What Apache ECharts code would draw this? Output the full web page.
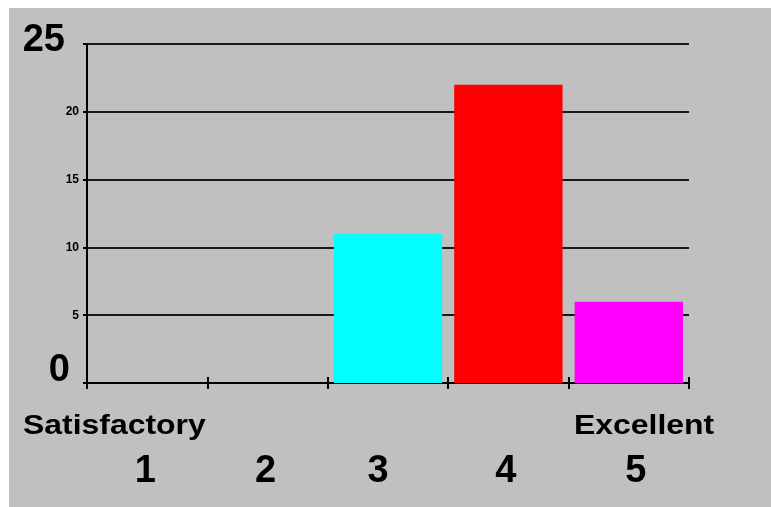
<!DOCTYPE html>
<html>
<head>
<meta charset="utf-8">
<script src="https://cdn.jsdelivr.net/npm/echarts@6/dist/echarts.min.js"></script>
<style>
  html, body { margin: 0; padding: 0; background: #ffffff; }
  #chart { position: absolute; left: 9px; top: 8px; width: 762px; height: 499px; background: #c0c0c0; }
</style>
</head>
<body>
<div id="chart"></div>
<script>
// rating scale 1..5
const categories = ['1', '2', '3', '4', '5'];
// number of answers per rating
const counts = [0, 0, 11, 22, 6];
const barColors = ['#00ffff', '#00ffff', '#00ffff', '#ff0000', '#ff00ff'];
const scaleEnds = ['Satisfactory', 'Excellent'];

const chart = echarts.init(document.getElementById('chart'));
const font = 'Liberation Sans, Arial, sans-serif';
const numStyle = { fontFamily: font, fontSize: 38, fontWeight: 'bold', color: '#000' };

const option = {
  animation: false,
  grid: { left: 78, right: 82, top: 36, bottom: 124 },
  xAxis: [{
    type: 'category',
    data: categories,
    axisLine: { lineStyle: { color: '#000', width: 2 } },
    axisTick: { show: true, length: 6, lineStyle: { color: '#000', width: 2 } },
    axisLabel: {
      margin: 70,
      // the digits under the axis are not quite centred in the original
      formatter: function (v) { return '{n' + v + '|' + v + '}'; },
      rich: {
        n1: Object.assign({ padding: [0, 4, 0, 0] }, numStyle),
        n2: Object.assign({ padding: [0, 4, 0, 0] }, numStyle),
        n3: Object.assign({ padding: [0, 20, 0, 0] }, numStyle),
        n4: Object.assign({ padding: [0, 5, 0, 0] }, numStyle),
        n5: Object.assign({ padding: [0, 0, 0, 14] }, numStyle)
      }
    }
  }, {
    // second axis only to draw the tick part above the baseline
    type: 'category',
    data: categories,
    position: 'bottom',
    axisLine: { show: false },
    axisTick: { show: true, inside: true, length: 6, lineStyle: { color: '#000', width: 2 } },
    axisLabel: { show: false }
  }],
  yAxis: {
    type: 'value',
    min: 0,
    max: 25,
    interval: 5,
    axisLine: { show: true, lineStyle: { color: '#000', width: 2 } },
    axisTick: { show: true, length: 4, lineStyle: { color: '#000', width: 2 } },
    splitLine: { lineStyle: { color: '#1a1a1a', width: 2 } },
    axisLabel: {
      margin: 8,
      formatter: function (v) {
        if (v === 25) return '{top|25}';
        if (v === 0) return '{zero|0}';
        return '{small|' + v + '}';
      },
      rich: {
        top: Object.assign({ padding: [0, 14, 6, 0] }, numStyle),
        zero: Object.assign({ padding: [0, 9, 24, 0] }, numStyle),
        small: { fontFamily: font, fontSize: 12, fontWeight: 'bold', color: '#000' }
      }
    }
  },
  series: [{
    type: 'bar',
    barCategoryGap: '10%',
    data: counts.map((v, i) => ({ value: v, itemStyle: { color: barColors[i] } }))
  }],
  graphic: [{
    type: 'text',
    left: 14,
    top: 404,
    scaleX: 1.14,
    style: { text: scaleEnds[0], font: 'bold 28px ' + font, fill: '#000' }
  }, {
    type: 'text',
    left: 565,
    top: 404,
    scaleX: 1.14,
    style: { text: scaleEnds[1], font: 'bold 28px ' + font, fill: '#000' }
  }]
};

chart.setOption(option);
</script>
</body>
</html>
